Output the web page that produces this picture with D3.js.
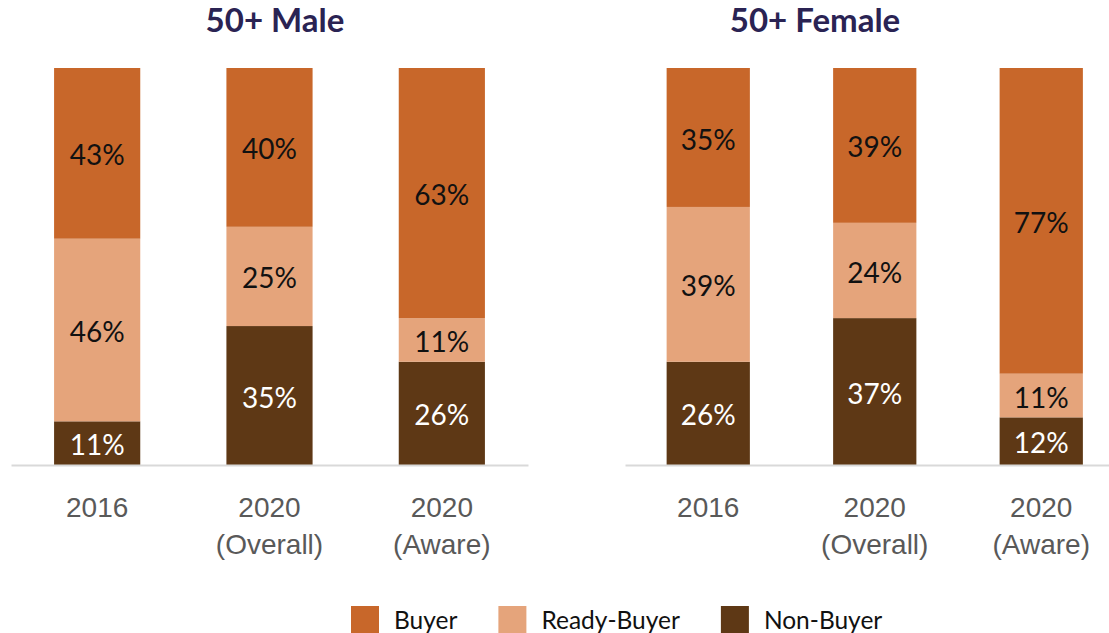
<!DOCTYPE html>
<html>
<head>
<meta charset="utf-8">
<script src="https://cdn.jsdelivr.net/npm/d3@7"></script>
<style>
  body { margin: 0; background: #fff; }
  svg { display: block; font-family: Lato, "Open Sans", sans-serif; }
  .axis path { stroke: #d9d9d9; stroke-width: 2; }
  .axis text { fill: #595959; font-size: 28px; }
</style>
</head>
<body>
<div id="chart"></div>
<script>
// data
var categories = [["2016"], ["2020", "(Overall)"], ["2020", "(Aware)"]];
var seriesNames = ["Non-Buyer", "Ready-Buyer", "Buyer"];
var legendNames = ["Buyer", "Ready-Buyer", "Non-Buyer"];
var panelTitles = ["50+ Male", "50+ Female"];

var maleNonBuyer = [11, 35, 26],
    maleReadyBuyer = [46, 25, 11],
    maleBuyer = [43, 40, 63];

var femaleNonBuyer = [26, 37, 12],
    femaleReadyBuyer = [39, 24, 11],
    femaleBuyer = [35, 39, 77];

var color = d3.scaleOrdinal()
    .domain(["Buyer", "Ready-Buyer", "Non-Buyer"])
    .range(["#c8672a", "#e5a47b", "#5e3815"]);
var labelColor = {"Buyer": "#111", "Ready-Buyer": "#111", "Non-Buyer": "#fff"};

var width = 1109, height = 633;

var svg = d3.select("#chart").append("svg")
    .attr("width", width)
    .attr("height", height);

var y = d3.scaleLinear().domain([0, 100]).range([465, 68]);

function rows(non, ready, buyer) {
  return categories.map(function(c, i) {
    return {cat: c.join(" "), "Non-Buyer": non[i], "Ready-Buyer": ready[i], "Buyer": buyer[i]};
  });
}

var panels = [
  {title: panelTitles[0], titleX: 275, range: [11, 528], data: rows(maleNonBuyer, maleReadyBuyer, maleBuyer)},
  {title: panelTitles[1], titleX: 815, range: [625, 1124.5], data: rows(femaleNonBuyer, femaleReadyBuyer, femaleBuyer)}
];

var stack = d3.stack().keys(seriesNames);

panels.forEach(function(p) {
  var x = d3.scaleBand()
      .domain(p.data.map(function(d) { return d.cat; }))
      .range(p.range)
      .paddingInner(0.5)
      .paddingOuter(0.25);

  var g = svg.append("g");

  g.append("text")
      .attr("x", p.titleX)
      .attr("y", 32)
      .attr("text-anchor", "middle")
      .style("font-size", "33px")
      .style("font-weight", "bold")
      .style("fill", "#2a2353")
      .text(p.title);

  var layers = g.selectAll("g.layer")
      .data(stack(p.data))
    .enter().append("g")
      .attr("class", "layer");

  layers.selectAll("rect")
      .data(function(s) { return s.map(function(d) { d.key = s.key; return d; }); })
    .enter().append("rect")
      .attr("x", function(d) { return x(d.data.cat); })
      .attr("width", x.bandwidth())
      .attr("y", function(d) { return y(d[1]); })
      .attr("height", function(d) { return y(d[0]) - y(d[1]); })
      .style("fill", function(d) { return color(d.key); });

  layers.selectAll("text")
      .data(function(s) { return s; })
    .enter().append("text")
      .attr("x", function(d) { return x(d.data.cat) + x.bandwidth() / 2; })
      .attr("y", function(d) { return (y(d[0]) + y(d[1])) / 2; })
      .attr("dy", "0.43em")
      .attr("text-anchor", "middle")
      .style("font-size", "28px")
      .style("fill", function(d) { return labelColor[d.key]; })
      .text(function(d) { return (d[1] - d[0]) + "%"; });

  var axis = g.append("g")
      .attr("class", "axis")
      .attr("transform", "translate(0," + y(0) + ")")
      .call(d3.axisBottom(x).tickSize(0).tickSizeOuter(0));

  axis.selectAll(".tick text").each(function(d, i) {
    var t = d3.select(this).text(null).attr("y", 0).attr("dy", null);
    categories[i].forEach(function(line, j) {
      t.append("tspan")
          .attr("x", 0)
          .attr("y", 52 + j * 37)
          .text(line);
    });
  });
});

// legend
var legend = svg.append("g").attr("transform", "translate(351,0)");
var lx = 0;
legendNames.forEach(function(name) {
  var item = legend.append("g").attr("transform", "translate(" + lx + ",0)");
  item.append("rect")
      .attr("x", 0).attr("y", 606)
      .attr("width", 28).attr("height", 28)
      .style("fill", color(name));
  var t = item.append("text")
      .attr("x", 43).attr("y", 629)
      .style("font-size", "24.5px")
      .style("fill", "#111")
      .text(name);
  lx += 43 + t.node().getComputedTextLength() + 41;
});
</script>
</body>
</html>
